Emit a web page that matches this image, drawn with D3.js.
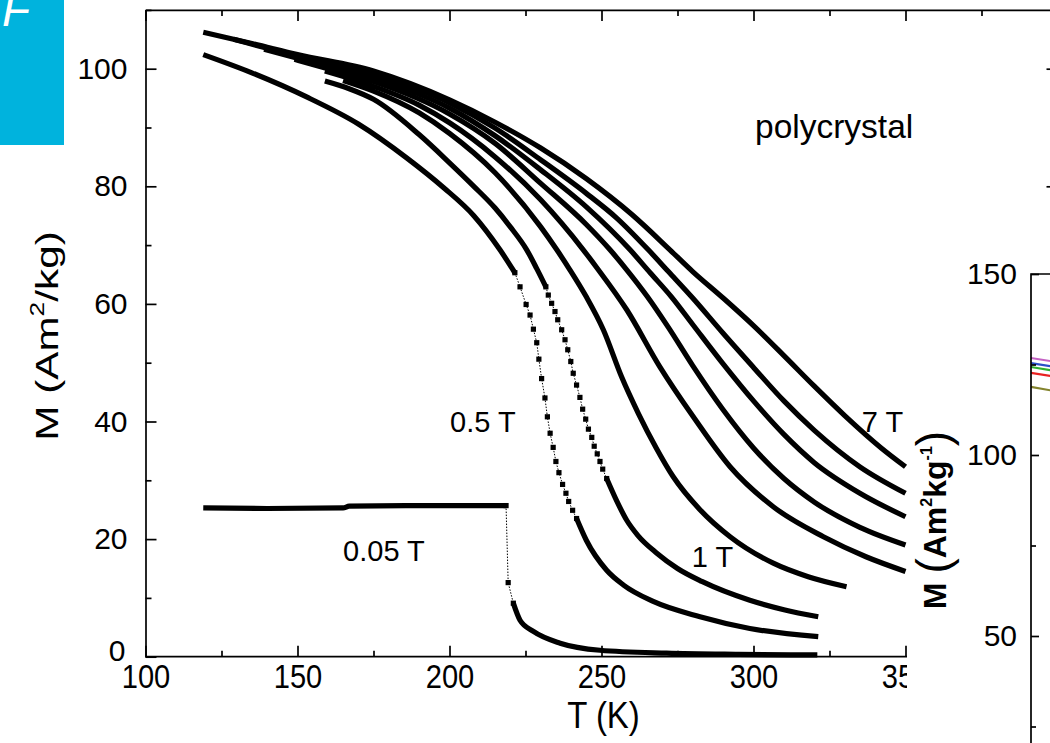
<!DOCTYPE html>
<html>
<head>
<meta charset="utf-8">
<script src="https://cdn.jsdelivr.net/npm/d3@7"></script>
<style>
  html, body { margin: 0; padding: 0; background: #fff; }
  svg { display: block; font-family: "Liberation Sans", Arial, Helvetica, sans-serif; }
  .axis path, .axis line { stroke: #000; stroke-width: 1.7; }
  .axis text { font-size: 30px; fill: #000; font-family: "Liberation Sans", Arial, sans-serif; }
  .lbl { fill: #000; }
</style>
</head>
<body>
<svg id="chart" width="1050" height="743"></svg>
<script>
// ---- data: [T (K), M (Am2/kg)] ----
const X_MAJOR = [100, 150, 200, 250, 300, 350];
const X_MINOR = [125, 175, 225, 275, 325, 375];
const Y_MAJOR = [0, 20, 40, 60, 80, 100];
const Y_MINOR = [10, 30, 50, 70, 90, 110];

// 0.05 T: flat, then a jump down, then a tail
const F005_a = [[119,25.3],[140,25.2],[165,25.3],[167,25.6],[190,25.7],[218.6,25.7]];
const F005_dots = [[218.6,25.7],[219.3,12.6],[221,9.1]];
const F005_b = [[221,9.1],[223.2,6.2],[227.6,4.3],[236.4,2.3],[249.5,1.1],[271.4,0.6],[295,0.4],[321,0.3]];

// 0.5 T
const F05_a = [[119,102.4],[135,99.3],[153,95.2],[170,90.6],[186,84.8],[198,79.8],[208,75.0],[216.6,69.2],[221.5,65.3]];
const F05_dots = [[221.5,65.3],[223.2,62.9],[225.2,59.9],[226.5,58.1],[227.6,55.7],[228.7,53.4],[229.4,50.6],
  [230.3,47.3],[231.4,44.0],[232.2,40.8],[233.1,38.0],[234.1,35.6],[235.0,33.2],[236.0,31.3],[237.2,29.3],
  [238.3,27.8],[239.2,26.4],[240.5,24.9],[241.8,23.5]];
const F05_b = [[241.8,23.5],[245,19.8],[251.7,14.7],[257.2,12.2],[267,9.4],[282.4,6.8],[298.8,4.8],[321.3,3.4]];

// 1 T
const F1_a = [[159,97.9],[167,96.6],[175,94.8],[190,88.8],[200,84.0],[208,80.0],[215,76.3],[220,73.1],
  [225.4,69.2],[228.7,66.0],[231.7,62.9]];
const F1_dots = [[231.7,62.9],[232.5,61.5],[233.6,60.1],[234.7,58.7],[235.6,57.3],[236.9,55.6],[238.0,53.9],
  [238.9,52.2],[239.9,50.2],[240.7,48.2],[241.8,46.2],[242.9,44.1],[243.8,42.1],[244.8,40.4],[245.7,38.7],
  [246.8,37.3],[247.6,35.8],[248.6,34.5],[249.5,33.2],[250.4,31.9],[251.7,30.3]];
const F1_b = [[251.7,30.3],[255,26.5],[258.3,23.2],[262,20.6],[268.2,17.6],[275,15],[283,12.8],[298.8,9.6],[310,8.0],[321.3,6.8]];

// 2 T .. 7 T
const F2 = [[165,98.0],[175,96.2],[190,92.5],[200,89.0],[215,82.3],[230,73.1],[235.3,69.2],[239.6,65.8],[245,61.2],
  [250.6,55.6],[256.6,47.6],[262.1,41.4],[268,35.5],[273.6,30.6],[282.4,25],[292.3,20.4],[306.5,15.9],[318,13.6],[330.6,11.9]];
const F3 = [[159,99.6],[175,97.0],[190,93.8],[200,90.8],[215,85],[230,77.7],[244,69.2],[248.4,66.2],[258.3,59.0],
  [269.2,49.3],[280.2,40.8],[292.3,32.3],[306.5,25.5],[323,20.4],[337,17],[350,14.5]];
const F4 = [[149,101.6],[160,100.0],[175,97.8],[200,92.3],[215,87.3],[230,80.5],[245,73.5],[252.8,69.2],[258.3,65.8],
  [265,61.3],[272,56],[280,49.5],[290,42],[300,35.5],[310,30.3],[320,26.3],[335,22],[350,19]];
const F5 = [[139,103.3],[150,101.8],[160,100.5],[175,98.4],[200,93.3],[215,88.6],[230,82.8],[245,76.5],[259.4,69.2],
  [266,65.3],[273,61.2],[280,56.5],[290,49.8],[300,43.5],[310,37.8],[320,33],[335,27.8],[350,23.8]];
const F6 = [[129,105.0],[150,102.2],[160,101.0],[175,99.0],[200,94.2],[215,89.9],[230,84.5],[245,78.8],[255,74.6],
  [265.4,69.2],[272,65.5],[280,61],[290,55],[300,49.2],[310,43.5],[320,38.5],[335,32.3],[350,27.8]];
const F7 = [[119,106.2],[135,104.3],[150,102.4],[175,99.6],[200,94.7],[215,90.9],[230,86.5],[245,81.3],[260,75.2],
  [272.5,69.2],[280,65.5],[290,61.0],[300,56.3],[310,51.2],[320,46.0],[330,41.0],[342,35.5],[350,32.3]];

const FIELD_LABELS = [['0.05 T',165,16.2],['0.5 T',200.2,38.2],['1 T',279.7,15.3],['7 T',335.6,38.2]];

// inset panel on the right (cut off by the picture edge)
const P2_Y_MAJOR = [50, 100, 150];
const P2_Y_MINOR = [25, 75, 125];
const P2_COLORS = ['#c462c4', '#2a4fc8', '#2fb02f', '#e82222', '#84842e'];
const P2_START = [126.8, 125.4, 124.3, 122.7, 118.8];
const P2_NEXT  = [125.7, 124.3, 123.2, 121.6, 117.6];

// ---- drawing ----
const svg = d3.select('#chart');
const x = d3.scaleLinear().domain([100, 400]).range([145.5, 1057.5]);
const y = d3.scaleLinear().domain([0, 110]).range([656.7, 9.9]);

// blue tab at top-left
svg.append('rect').attr('x', 0).attr('y', 0).attr('width', 64).attr('height', 145).attr('fill', '#00b3dd');
svg.append('text').attr('x', 2).attr('y', 26).attr('fill', '#fff')
  .attr('font-size', 46).attr('font-style', 'italic').text('F');

// axes
const axes = svg.append('g').attr('class', 'axis');
const bottom = axes.append('g').attr('transform', `translate(0,${y(0)})`)
  .call(d3.axisBottom(x).tickValues(X_MAJOR).tickSize(-11).tickSizeOuter(0).tickPadding(7));
bottom.selectAll('text').attr('transform', 'scale(0.97,1.12)');
bottom.select('.domain').attr('d', `M${x(100)},0H${x(400)}`);
axes.append('g').attr('transform', `translate(0,${y(0)})`)
  .call(d3.axisBottom(x).tickValues(X_MINOR).tickSize(-6).tickFormat('')).select('.domain').remove();
axes.append('g').attr('transform', `translate(0,${y(110)})`)
  .call(d3.axisTop(x).tickValues(X_MAJOR).tickSize(-11).tickSizeOuter(0).tickFormat(''));
axes.append('g').attr('transform', `translate(0,${y(110)})`)
  .call(d3.axisTop(x).tickValues(X_MINOR).tickSize(-6).tickFormat('')).select('.domain').remove();
const left = axes.append('g').attr('transform', `translate(${x(100)},0)`)
  .call(d3.axisLeft(y).tickValues(Y_MAJOR).tickSize(-11).tickSizeOuter(0).tickPadding(18));
left.selectAll('text').filter(d => d === 0).attr('dy', '0.12em').attr('x', -20);
axes.append('g').attr('transform', `translate(${x(100)},0)`)
  .call(d3.axisLeft(y).tickValues(Y_MINOR).tickSize(-6).tickFormat('')).select('.domain').remove();
axes.append('g').attr('transform', `translate(${x(400)},0)`)
  .call(d3.axisRight(y).tickValues(Y_MAJOR).tickSize(-11).tickSizeOuter(0).tickFormat(''));

// curves
const line = d3.line().x(d => x(d[0])).y(d => y(d[1])).curve(d3.curveMonotoneX);
const gc = svg.append('g');
const thick = [F005_a, F005_b, F05_a, F05_b, F1_a, F1_b, F2, F3, F4, F5, F6, F7];
const dotted = [F005_dots, F05_dots, F1_dots];

dotted.forEach(d => {
  gc.append('path').attr('d', d3.line().x(p => x(p[0])).y(p => y(p[1]))(d))
    .attr('fill', 'none').attr('stroke', '#000').attr('stroke-width', 1).attr('stroke-dasharray', '1.5,1.5');
  gc.selectAll(null).data(d).join('rect')
    .attr('x', p => x(p[0]) - 2.6).attr('y', p => y(p[1]) - 2.6)
    .attr('width', 5.2).attr('height', 5.2).attr('fill', '#000');
});
thick.forEach(d => {
  gc.append('path').attr('d', line(d))
    .attr('fill', 'none').attr('stroke', '#000').attr('stroke-width', 5.2).attr('stroke-linejoin', 'round');
});

// labels
svg.selectAll('.fl').data(FIELD_LABELS).join('text').attr('class', 'lbl').style('font-size', '29px')
  .attr('x', d => x(d[1])).attr('y', d => y(d[2])).text(d => d[0]);
svg.append('text').attr('class', 'lbl').style('font-size', '33.5px').attr('x', 755).attr('y', 138).text('polycrystal');

svg.append('text').attr('text-anchor', 'middle').attr('font-size', 33)
  .attr('transform', `translate(${x(250) + 2},728) scale(1,1.12)`).text('T (K)');

const yl = svg.append('text').attr('transform', 'translate(58,336) rotate(-90) scale(1.32,1)')
  .attr('text-anchor', 'middle').attr('font-size', 32);
yl.append('tspan').text('M (Am');
yl.append('tspan').attr('font-size', 20).attr('dy', -14).text('2');
yl.append('tspan').attr('dy', 14).text('/kg)');

// inset panel covering the right edge
const p2 = svg.append('g');
p2.append('rect').attr('x', 907).attr('y', 240).attr('width', 143).attr('height', 503).attr('fill', '#fff');
const y2 = d3.scaleLinear().domain([0, 150]).range([274 + 150 * 3.62, 274]);
const x2 = d3.scaleLinear().domain([100, 400]).range([1031, 1531]);
P2_COLORS.forEach((c, i) => {
  p2.append('path').attr('d', d3.line().x(p => x2(p[0])).y(p => y2(p[1]))([[100, P2_START[i]], [115, P2_NEXT[i]]]))
    .attr('stroke', c).attr('stroke-width', 2.2).attr('fill', 'none');
});
const a2 = p2.append('g').attr('class', 'axis').attr('transform', `translate(1031,0)`)
  .call(d3.axisLeft(y2).tickValues(P2_Y_MAJOR).tickSize(-8).tickSizeOuter(0).tickPadding(14));
a2.select('.domain').attr('d', `M0,${y2(0)}V${y2(150)}H30`);
p2.append('g').attr('class', 'axis').attr('transform', `translate(1031,0)`)
  .call(d3.axisLeft(y2).tickValues(P2_Y_MINOR).tickSize(-5).tickFormat('')).select('.domain').remove();

const ml = p2.append('text').attr('transform', 'translate(946,520) rotate(-90)')
  .attr('text-anchor', 'middle').attr('font-size', 32).attr('font-weight', 'bold');
ml.append('tspan').text('M ');
ml.append('tspan').attr('font-size', 46).attr('font-weight', 'normal').attr('dy', 3).text('(');
ml.append('tspan').attr('dy', -3).text('Am');
ml.append('tspan').attr('font-size', 16).attr('dy', -14).text('2');
ml.append('tspan').attr('dy', 14).text('kg');
ml.append('tspan').attr('font-size', 16).attr('dy', -14).text('-1');
ml.append('tspan').attr('font-size', 46).attr('font-weight', 'normal').attr('dy', 17).text(')');
</script>
</body>
</html>
